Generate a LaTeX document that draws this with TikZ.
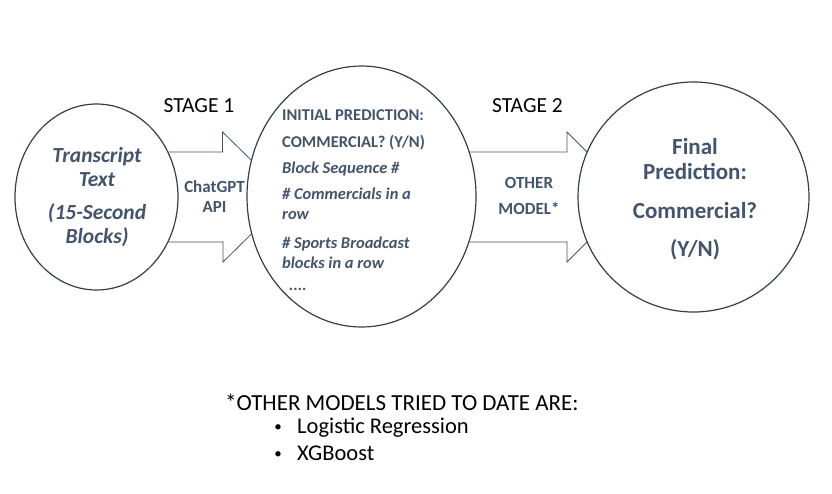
\documentclass[tikz,border=0pt]{standalone}
\usepackage{fontspec}
\setmainfont{Carlito}
\usetikzlibrary{shapes.geometric, positioning, calc, backgrounds}
\definecolor{cTXT}{HTML}{44546A}
\definecolor{cLINE}{HTML}{333F50}

\begin{document}
\begin{tikzpicture}[x=1pt, y=-1pt,
  oval/.style={draw=cLINE, line width=1.2pt, fill=white, ellipse, inner sep=0pt},
  blk/.style={draw=cTXT, line width=0.8pt, fill=white, line join=miter},
  lbl/.style={text=cTXT, align=center, inner sep=0pt, font=\fontsize{17}{19.5}\selectfont\bfseries},
  stage/.style={anchor=base, inner sep=0pt, font=\fontsize{21.5}{24}\selectfont},
  note/.style={anchor=base west, inner sep=0pt, font=\fontsize{22.5}{26}\selectfont},
  dot/.style={anchor=base, inner sep=0pt, font=\fontsize{15}{15}\selectfont}
]
\useasboundingbox (0,0) rectangle (832,493);

\node[oval, minimum width=163, minimum height=186] (src) at (96.5,197) {};
\node[oval, minimum width=229, minimum height=261] (feat) at (361.5,196.5) {};
\node[oval, minimum width=231, minimum height=230] (pred) at (693.5,197) {};

% block arrows behind the ovals
\begin{scope}[on background layer]
\draw[blk] ($(src.center)+(53,-45)$) -- ++(73,0) -- ++(0,-20) -- ($(feat.center)+(-72.5,0.5)$)
  -- ($(src.center)+(126.5,65)$) -- ++(0,-20) -- ($(src.center)+(53,45)$) -- cycle;
\draw[blk] ($(feat.center)+(88.5,-44.5)$) -- ++(117,0) -- ++(0,-20) -- ($(pred.center)+(-61.5,0)$)
  -- ($(feat.center)+(205.5,65.5)$) -- ++(0,-20) -- ($(feat.center)+(88.5,45.5)$) -- cycle;
\end{scope}

\node[lbl, text=cTXT, font=\fontsize{21.5}{24}\selectfont\bfseries\itshape] (srclbl)
  at ($(src.center)+(0.5,0.5)$) {Transcript\\Text\\[9pt](15-Second\\Blocks)};
\node[anchor=north west, inner sep=0pt, text=cTXT, align=left,
  font=\fontsize{16.5}{20}\selectfont\bfseries] (featlbl) at ($(feat.center)+(-79.5,-87)$)
  {INITIAL PREDICTION:\\[6.5pt]
   COMMERCIAL? (Y/N)\\[6pt]
   \textit{Block Sequence \#}\\[6pt]
   \textit{\# Commercials in a}\\
   \textit{row}\\[9.5pt]
   \textit{\# Sports Broadcast}\\
   \textit{blocks in a row}\\[2pt]
   \hspace*{7pt}\textit{....}};
\node[lbl, font=\fontsize{23}{25}\selectfont\bfseries] (predlbl)
  at ($(pred.center)+(1.5,2)$) {Final\\Prediction:\\[14pt]Commercial?\\[13pt](Y/N)};

\node[lbl] (api) at (214.5,196.5) {ChatGPT\\API};
\node[lbl, font=\fontsize{17}{25.5}\selectfont\bfseries] (other) at (529,196) {OTHER\\MODEL*};
\node[stage] (st1) at (199,112) {STAGE 1};
\node[stage] (st2) at (527.5,112) {STAGE 2};

\node[note, font=\fontsize{23}{26}\selectfont] (hdr) at (225,410) {*OTHER MODELS TRIED TO DATE ARE:};
\node[dot] (b1) at ($(hdr.base west)+(53,21)$) {•};
\node[note] (m1) at ($(hdr.base west)+(72,23)$) {Logistic Regression};
\node[dot] (b2) at ($(b1.base)+(0,27)$) {•};
\node[note] (m2) at ($(m1.base west)+(0,27)$) {XGBoost};
\end{tikzpicture}
\end{document}
